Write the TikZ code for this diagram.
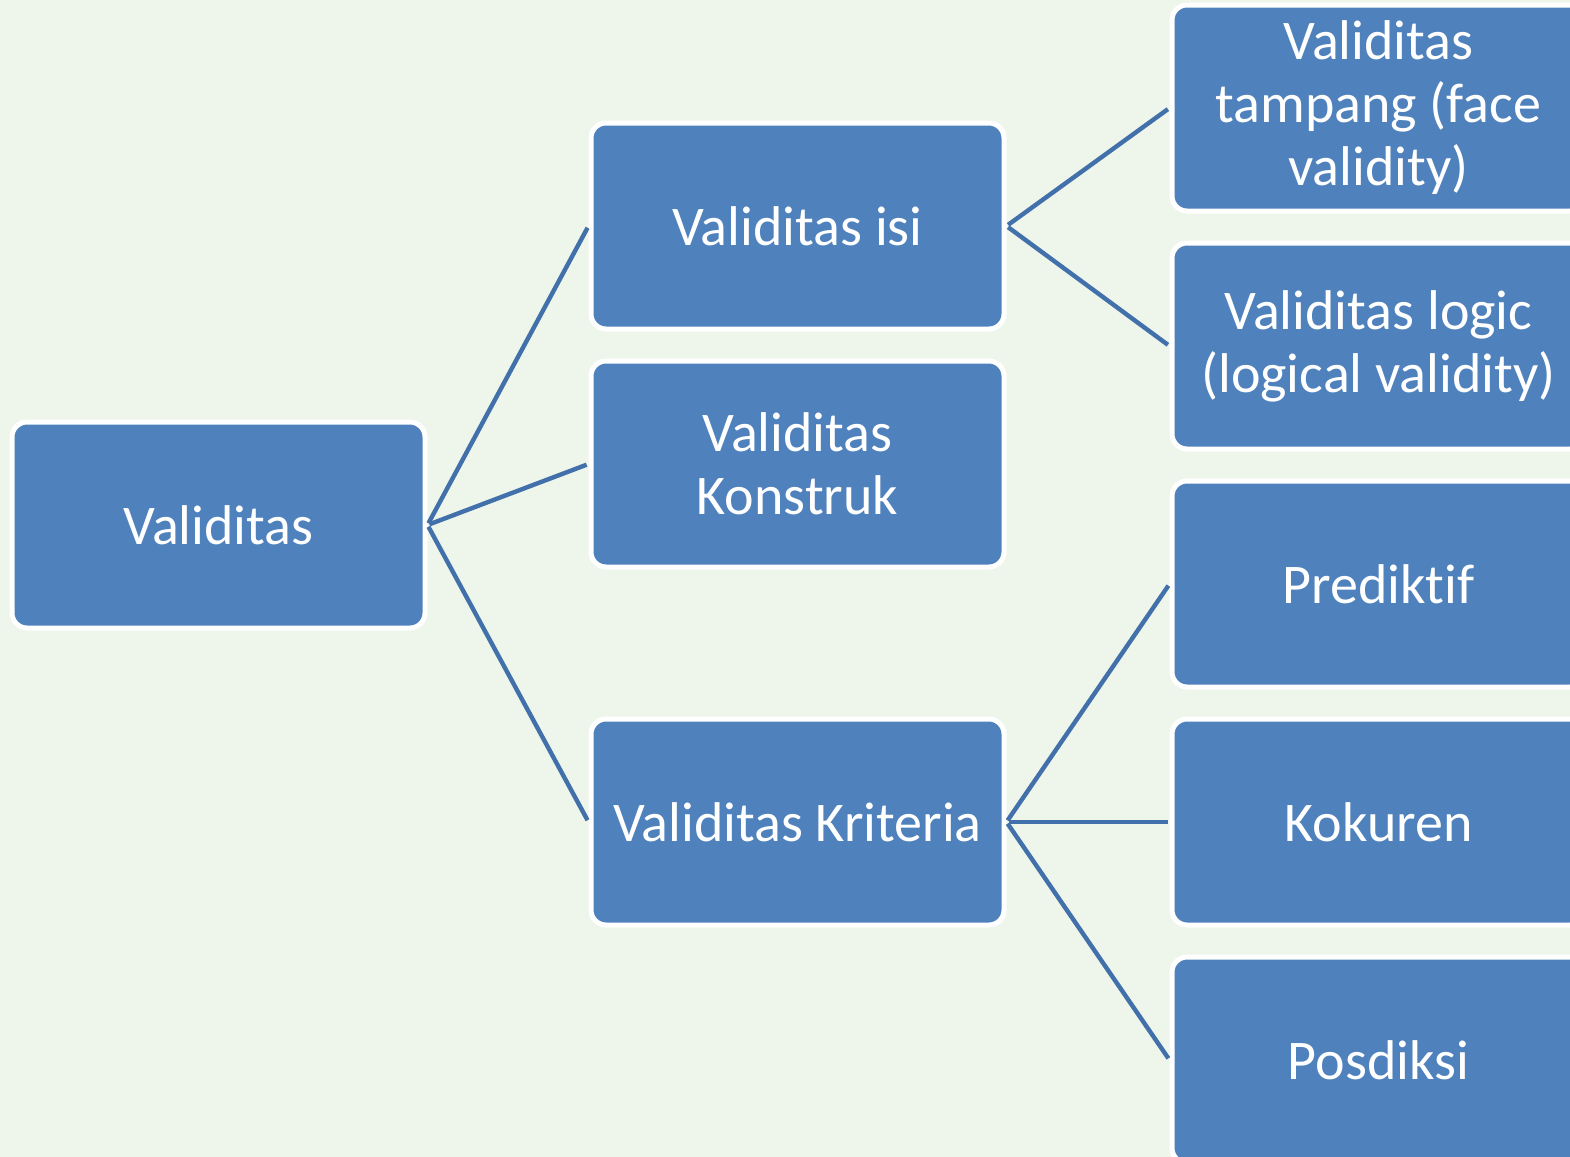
\documentclass[tikz,border=0pt]{standalone}
\usepackage{fontspec}
\setmainfont{Carlito}[Ligatures={NoCommon,NoRequired,NoContextual}]
\definecolor{boxblue}{HTML}{4F81BD}
\definecolor{linkblue}{HTML}{4170AB}
\definecolor{paper}{HTML}{EEF5EA}
\tikzset{
  box/.style={draw=white, line width=2.5pt, fill=boxblue, rounded corners=7.5pt,
    minimum width=206.5pt, minimum height=103pt, inner sep=0pt, align=center,
    text=white, font=\fontsize{28}{31.5}\selectfont},
  link/.style={draw=linkblue, line width=2.2pt, shorten <=1pt, shorten >=1pt}
}
\begin{document}
\begin{tikzpicture}[x=0.5pt, y=-0.5pt]
\fill[paper] (0,0) rectangle (1570,1157);
\useasboundingbox (0,0) rectangle (1570,1157);
\node[box] (val) at (218.5,525) {Validitas};
\node[box] (isi) at (797.5,226) {Validitas isi};
\node[box] (konstruk) at (797.5,464) {Validitas\\Konstruk};
\node[box] (kriteria) at (797.5,822) {Validitas Kriteria};
\node[box] (tampang) at (1378.5,108) {Validitas\\tampang (face\\validity)};
\node[box] (logic) at (1378.5,346) {Validitas logic\\(logical validity)};
\node[box] (prediktif) at (1378.5,584) {Prediktif};
\node[box] (kokuren) at (1378.5,822) {Kokuren};
\node[box] (posdiksi) at (1378.5,1060) {Posdiksi};
\draw[link] (val.east) -- (isi.west);
\draw[link] (val.east) -- (konstruk.west);
\draw[link] (val.east) -- (kriteria.west);
\draw[link] (isi.east) -- (tampang.west);
\draw[link] (isi.east) -- (logic.west);
\draw[link] (kriteria.east) -- (prediktif.west);
\draw[link] (kriteria.east) -- (kokuren.west);
\draw[link] (kriteria.east) -- (posdiksi.west);
\end{tikzpicture}
\end{document}
